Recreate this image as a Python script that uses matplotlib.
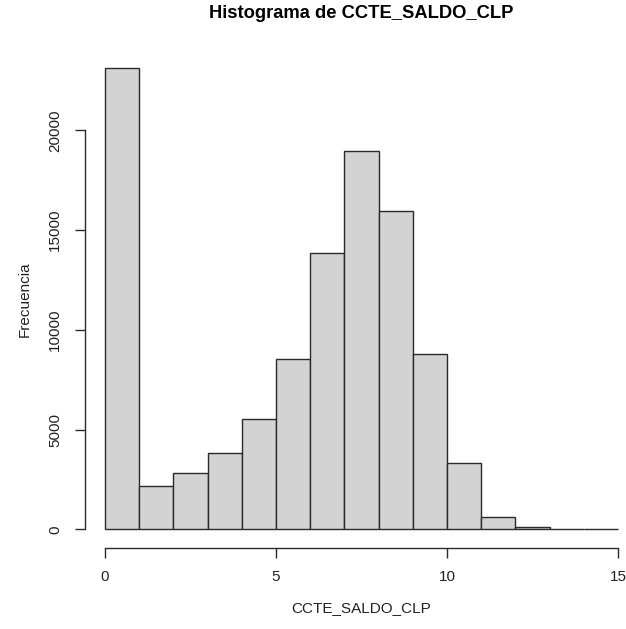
import numpy as np
import matplotlib.pyplot as plt

plt.rcParams['font.family'] = ['Liberation Sans', 'DejaVu Sans']

# bin edges (width 1) and frequency per bin
bin_edges = np.arange(0, 16)
frecuencia = [23130, 2190, 2845, 3820, 5540, 8540, 13870, 18975, 15960,
              8810, 3317, 633, 100, 30, 10]
x_ticks = [0, 5, 10, 15]
y_ticks = [0, 5000, 10000, 15000, 20000]

W, H = 626, 629
fig = plt.figure(figsize=(W / 100, H / 100), dpi=100)

# plot region in pixels (left, top, right, bottom); right edge runs past the canvas
left, top, right, bottom = 84.5, 49.6, 638.6, 547.9
ax = fig.add_axes([left / W, (H - bottom) / H, (right - left) / W, (bottom - top) / H])

# R-style 4% padding around the data range
ax.set_xlim(-0.6, 15.6)
ymax = max(frecuencia)
ax.set_ylim(-0.04 * ymax, 1.04 * ymax)

ax.bar(bin_edges[:-1], frecuencia, width=1, align='edge',
       color='#d3d3d3', edgecolor='#2a2a2a', linewidth=1.0)

for s in ['top', 'right']:
    ax.spines[s].set_visible(False)
ax.spines['left'].set_bounds(0, 20000)
ax.spines['bottom'].set_bounds(0, 15)
for s in ['left', 'bottom']:
    ax.spines[s].set_color('#2a2a2a')
    ax.spines[s].set_linewidth(1.0)

ax.set_xticks(x_ticks)
ax.set_xticklabels([str(v) for v in x_ticks])
ax.set_yticks(y_ticks)
ax.set_yticklabels([str(v) for v in y_ticks], rotation=90, va='center')
ax.tick_params(axis='both', length=7, width=1.0, color='#2a2a2a',
               labelsize=11, pad=9, labelcolor='#222222')

ax.set_xlabel('CCTE_SALDO_CLP', fontsize=11, labelpad=12, color='#222222')
ax.set_ylabel('Frecuencia', fontsize=11, labelpad=12, color='#222222')

fig.text(361 / W, 1 - 13 / H, 'Histograma de CCTE_SALDO_CLP',
         ha='center', va='center', fontsize=13.2, fontweight='bold')

fig.savefig('out.png', dpi=100)
